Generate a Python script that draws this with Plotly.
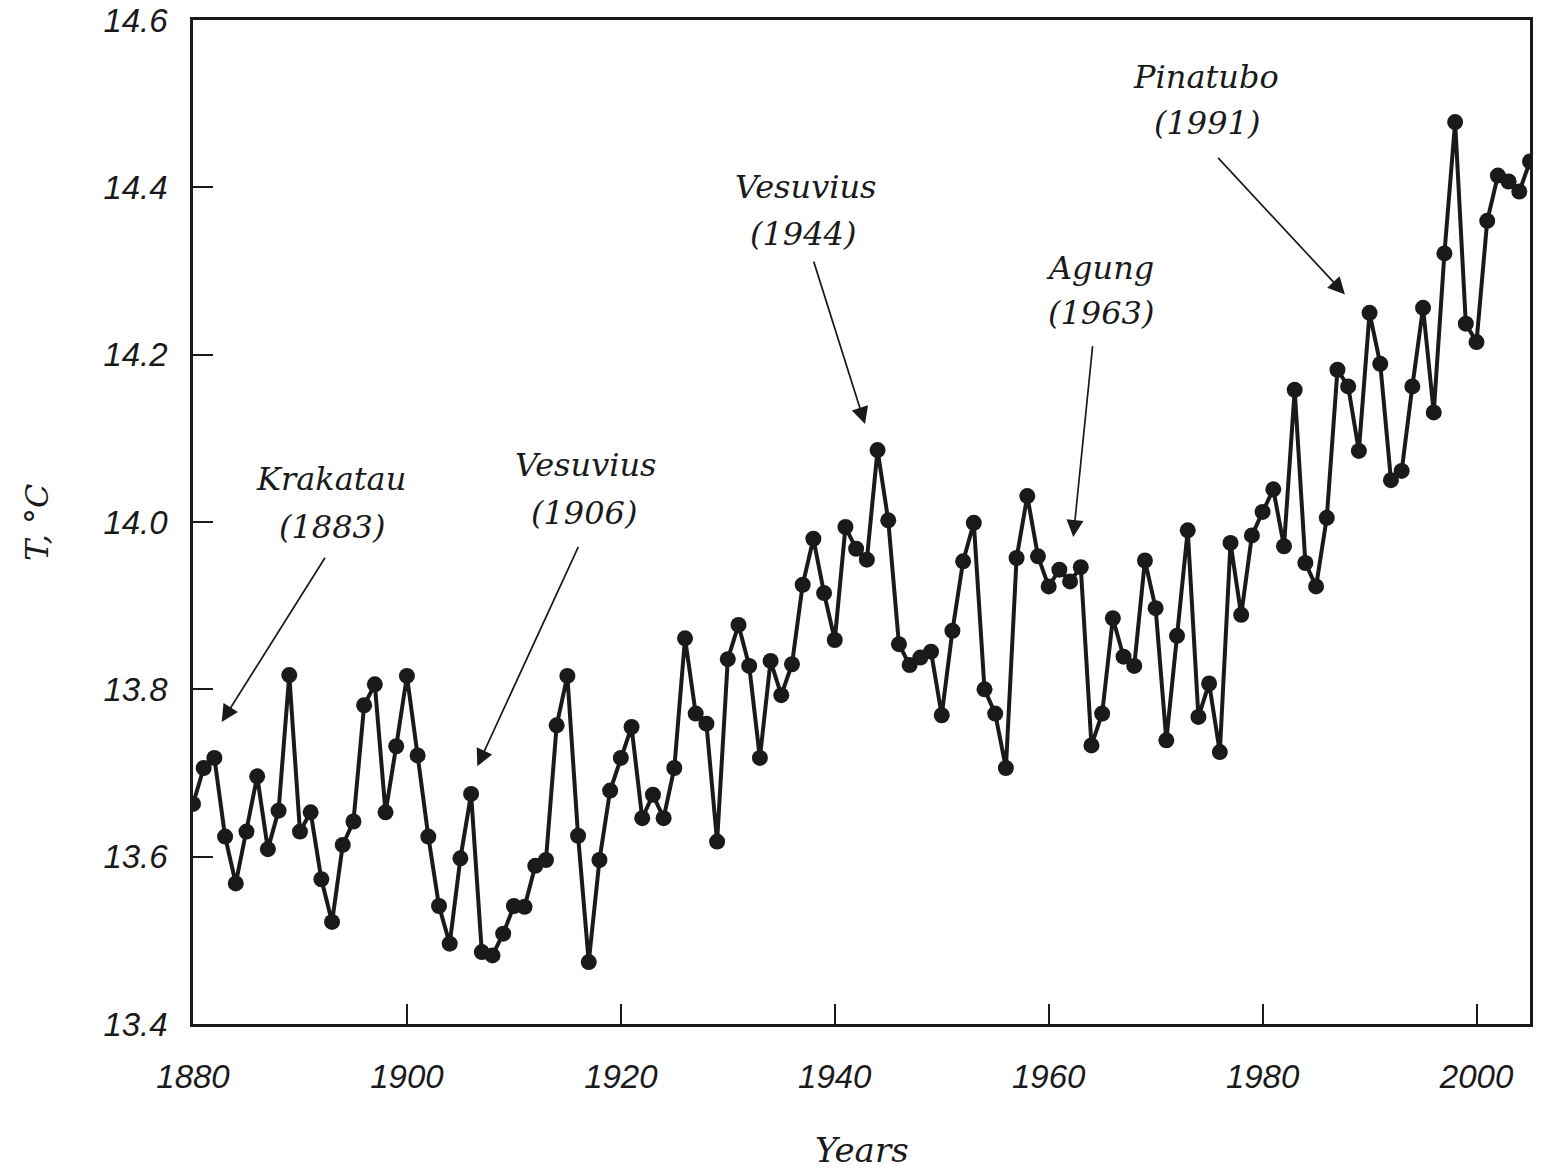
import plotly.graph_objects as go

# ---------------- data ----------------
years = list(range(1880, 2006))
temperature = [
    13.663, 13.706, 13.718, 13.624, 13.568, 13.630, 13.696, 13.609, 13.655, 13.817,  # 1880-1889
    13.630, 13.653, 13.573, 13.522, 13.614, 13.642, 13.781, 13.806, 13.653, 13.732,  # 1890-1899
    13.816, 13.721, 13.624, 13.541, 13.496, 13.598, 13.675, 13.486, 13.482, 13.508,  # 1900-1909
    13.541, 13.540, 13.589, 13.596, 13.757, 13.816, 13.625, 13.474, 13.596, 13.679,  # 1910-1919
    13.718, 13.755, 13.646, 13.674, 13.646, 13.706, 13.861, 13.771, 13.759, 13.618,  # 1920-1929
    13.836, 13.877, 13.828, 13.718, 13.834, 13.793, 13.830, 13.925, 13.980, 13.915,  # 1930-1939
    13.859, 13.994, 13.968, 13.955, 14.086, 14.002, 13.854, 13.829, 13.838, 13.845,  # 1940-1949
    13.769, 13.870, 13.953, 13.999, 13.800, 13.771, 13.706, 13.957, 14.031, 13.959,  # 1950-1959
    13.923, 13.943, 13.929, 13.946, 13.733, 13.771, 13.885, 13.839, 13.828, 13.954,  # 1960-1969
    13.897, 13.739, 13.864, 13.990, 13.767, 13.807, 13.725, 13.975, 13.889, 13.984,  # 1970-1979
    14.012, 14.039, 13.971, 14.158, 13.951, 13.923, 14.005, 14.182, 14.162, 14.085,  # 1980-1989
    14.250, 14.189, 14.050, 14.061, 14.162, 14.256, 14.131, 14.321, 14.478, 14.237,  # 1990-1999
    14.215, 14.360, 14.414, 14.407, 14.395, 14.431,                                  # 2000-2005
]

x_tick_values = [1880, 1900, 1920, 1940, 1960, 1980, 2000]
y_tick_values = [13.4, 13.6, 13.8, 14.0, 14.2, 14.4, 14.6]
y_tick_labels = ["13.4", "13.6", "13.8", "14.0", "14.2", "14.4", "14.6"]

event_names = ["Krakatau", "Vesuvius", "Vesuvius", "Agung", "Pinatubo"]
event_years = ["(1883)", "(1906)", "(1944)", "(1963)", "(1991)"]

# label placement (data coords) for name line / year line
name_pos = [(1892.86, 14.051), (1916.65, 14.068), (1937.22, 14.400), (1964.80, 14.304), (1974.71, 14.532)]
year_pos = [(1892.95, 13.994), (1916.51, 14.011), (1937.03, 14.344), (1964.85, 14.250), (1974.77, 14.477)]
# arrows: tail -> tip (data coords)
arrow_tail = [(1892.43, 13.959), (1916.09, 13.972), (1937.99, 14.313), (1964.12, 14.212), (1975.71, 14.437)]
arrow_tip = [(1882.68, 13.761), (1906.58, 13.708), (1942.83, 14.117), (1962.30, 13.982), (1987.70, 14.272)]

INK = "#1a1a1a"
SERIF = "DejaVu Serif"
SANS = "Liberation Sans"

fig = go.Figure()
fig.add_trace(go.Scatter(
    x=years, y=temperature, mode="lines+markers",
    line=dict(color=INK, width=4),
    marker=dict(color=INK, size=16, line=dict(width=0)),
    showlegend=False, hoverinfo="x+y",
))

annotations = []
for i in range(len(event_names)):
    annotations.append(dict(
        x=name_pos[i][0], y=name_pos[i][1], xref="x", yref="y",
        text=event_names[i], showarrow=False, xanchor="center", yanchor="middle",
        font=dict(family=SERIF, size=32, color=INK, style="italic"),
    ))
    annotations.append(dict(
        x=year_pos[i][0], y=year_pos[i][1], xref="x", yref="y",
        text=event_years[i], showarrow=False, xanchor="center", yanchor="middle",
        font=dict(family=SERIF, size=32, color=INK, style="italic"),
    ))
    annotations.append(dict(
        x=arrow_tip[i][0], y=arrow_tip[i][1], xref="x", yref="y",
        ax=arrow_tail[i][0], ay=arrow_tail[i][1], axref="x", ayref="y",
        text="", showarrow=True, arrowhead=2, arrowsize=2.0, arrowwidth=1.7,
        arrowcolor=INK, standoff=0, startstandoff=0,
    ))

# axis titles
annotations.append(dict(
    x=0.5, y=-0.1255, xref="paper", yref="paper", text="Years", showarrow=False,
    xanchor="center", yanchor="middle",
    font=dict(family=SERIF, size=34, color=INK, style="italic"),
))
annotations.append(dict(
    x=-0.1167, y=0.5, xref="paper", yref="paper", text="T, °C", showarrow=False,
    xanchor="center", yanchor="middle", textangle=-90,
    font=dict(family=SERIF, size=32, color=INK, style="italic"),
))

fig.update_layout(
    width=1544, height=1171,
    margin=dict(l=193, r=14, t=20, b=147),
    paper_bgcolor="white", plot_bgcolor="white",
    annotations=annotations,
    xaxis=dict(
        range=[1880, 2005], tickvals=x_tick_values, ticks="inside", ticklen=20,
        tickwidth=2, tickcolor=INK, showline=True, linecolor=INK, linewidth=2.5,
        mirror=True, showgrid=False, zeroline=False, ticklabelstandoff=22,
        automargin=False,
        tickfont=dict(family=SANS, size=33, color=INK, style="italic"),
    ),
    yaxis=dict(
        range=[13.4, 14.6], tickvals=y_tick_values, ticktext=y_tick_labels,
        ticks="inside", ticklen=20, tickwidth=2, tickcolor=INK,
        showline=True, linecolor=INK, linewidth=2.5, mirror=True,
        showgrid=False, zeroline=False, ticklabelstandoff=16,
        automargin=False,
        tickfont=dict(family=SANS, size=33, color=INK, style="italic"),
    ),
)

fig.write_html("out.html")
